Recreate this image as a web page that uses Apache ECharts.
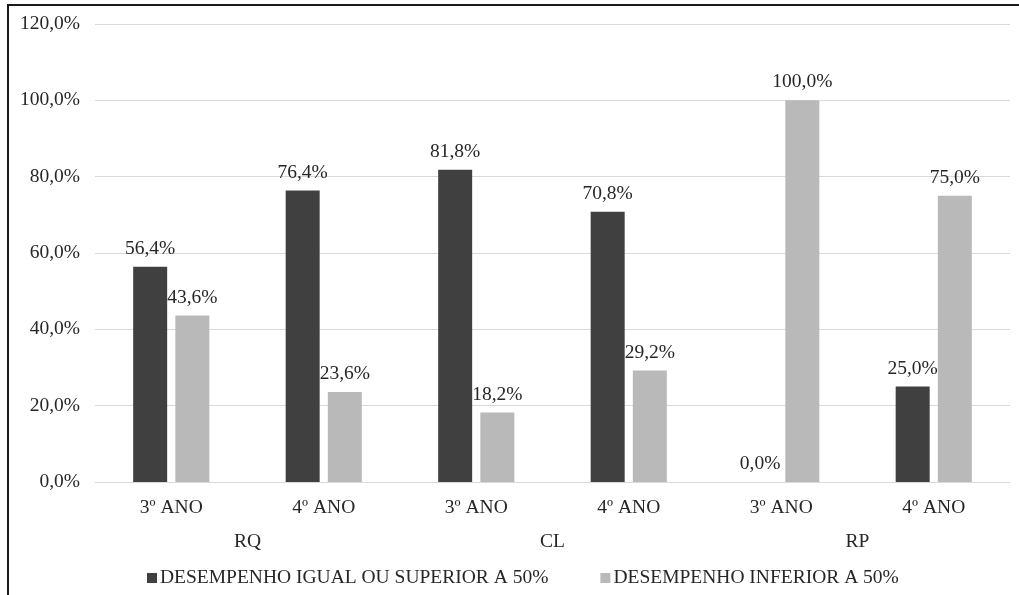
<!DOCTYPE html>
<html>
<head>
<meta charset="utf-8">
<title>Desempenho por ano e competência</title>
<script src="https://cdn.jsdelivr.net/npm/echarts@6/dist/echarts.min.js"></script>
<style>
  html, body { margin: 0; padding: 0; background: #fff; }
  #chart { width: 1019px; height: 595px; }
</style>
</head>
<body>
<div id="chart"></div>
<script>
// Categories: school year within each competence group
const years = ['3º ANO', '4º ANO', '3º ANO', '4º ANO', '3º ANO', '4º ANO'];
const groups = ['RQ', 'CL', 'RP'];

// Series values (%)
const seriesNames = ['DESEMPENHO IGUAL OU SUPERIOR A 50%', 'DESEMPENHO INFERIOR A 50%'];
const atLeastHalf = [56.4, 76.4, 81.8, 70.8, 0.0, 25.0];
const belowHalf = [43.6, 23.6, 18.2, 29.2, 100.0, 75.0];

// Value axis ticks
const yMin = 0, yMax = 120, yStep = 20;

const FONT = "'Liberation Serif', 'Times New Roman', serif";
const FS = 19.5;
const TEXT = '#262626';
const pct = v => Number(v).toFixed(1).replace('.', ',') + '%';

const chart = echarts.init(document.getElementById('chart'));

const barLabel = {
  show: true,
  position: 'top',
  distance: 8,
  formatter: p => pct(p.value),
  fontFamily: FONT,
  fontSize: FS,
  color: TEXT
};

chart.setOption({
  animation: false,
  backgroundColor: '#fff',
  textStyle: { fontFamily: FONT },
  grid: { left: 95, right: 9, top: 24, bottom: 113, containLabel: false },
  legend: {
    data: seriesNames,
    left: 142,
    top: 563,
    icon: 'rect',
    itemWidth: 10,
    itemHeight: 10,
    itemGap: 52,
    textStyle: { fontFamily: FONT, fontSize: FS, color: TEXT, padding: [0, 0, 0, -2] }
  },
  xAxis: [
    {
      type: 'category',
      data: years,
      position: 'bottom',
      axisLine: { show: true, lineStyle: { color: '#d9d9d9', width: 1 } },
      axisTick: { show: false },
      axisLabel: { margin: 16, fontFamily: FONT, fontSize: FS, color: TEXT, interval: 0 }
    },
    {
      type: 'category',
      data: groups,
      position: 'bottom',
      offset: 37,
      axisLine: { show: false },
      axisTick: { show: false },
      axisLabel: { margin: 13, fontFamily: FONT, fontSize: FS, color: TEXT, interval: 0 }
    }
  ],
  yAxis: {
    type: 'value',
    min: yMin,
    max: yMax,
    interval: yStep,
    axisLine: { show: false },
    axisTick: { show: false },
    splitLine: { lineStyle: { color: '#d9d9d9', width: 1 } },
    axisLabel: { margin: 15, fontFamily: FONT, fontSize: FS, color: TEXT, formatter: v => pct(v) }
  },
  series: [
    {
      name: seriesNames[0],
      type: 'bar',
      xAxisIndex: 0,
      data: atLeastHalf,
      barWidth: 34,
      barGap: '24%',
      itemStyle: { color: '#404040' },
      label: barLabel
    },
    {
      name: seriesNames[1],
      type: 'bar',
      xAxisIndex: 0,
      data: belowHalf,
      barWidth: 34,
      barGap: '24%',
      itemStyle: { color: '#b9b9b9' },
      label: barLabel
    }
  ],
  graphic: [
    {
      type: 'polyline',
      shape: { points: [[8, 595], [8, 5], [1019, 5]] },
      style: { stroke: '#1a1a1a', lineWidth: 2, fill: null }
    }
  ]
});
</script>
</body>
</html>
